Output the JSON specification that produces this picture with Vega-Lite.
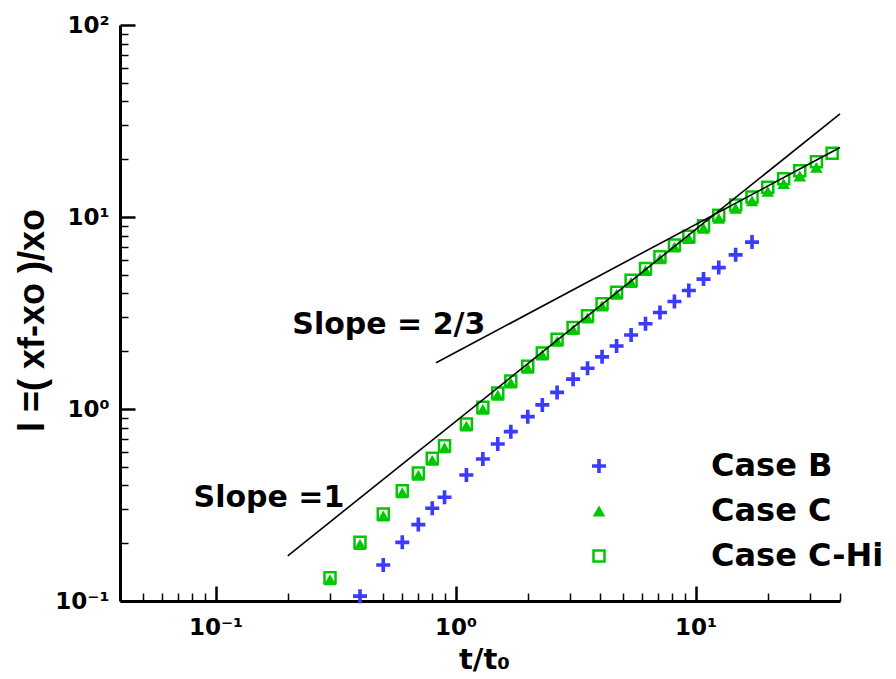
{
  "$schema": "https://vega.github.io/schema/vega-lite/v6.json",
  "width": 720,
  "height": 576,
  "autosize": {"type": "none"},
  "padding": {"left": 120, "top": 25, "right": 56, "bottom": 78},
  "background": "white",
  "config": {"view": {"stroke": null}},
  "datasets": {
    "points": [
      {"case": "Case C-Hi", "t": 0.30, "l": 0.132},
      {"case": "Case C-Hi", "t": 0.40, "l": 0.202},
      {"case": "Case C-Hi", "t": 0.50, "l": 0.284},
      {"case": "Case C-Hi", "t": 0.60, "l": 0.375},
      {"case": "Case C-Hi", "t": 0.70, "l": 0.464},
      {"case": "Case C-Hi", "t": 0.80, "l": 0.554},
      {"case": "Case C-Hi", "t": 0.90, "l": 0.644},
      {"case": "Case C-Hi", "t": 1.11, "l": 0.835},
      {"case": "Case C-Hi", "t": 1.30, "l": 1.02},
      {"case": "Case C-Hi", "t": 1.50, "l": 1.21},
      {"case": "Case C-Hi", "t": 1.70, "l": 1.40},
      {"case": "Case C-Hi", "t": 2.00, "l": 1.67},
      {"case": "Case C-Hi", "t": 2.30, "l": 1.96},
      {"case": "Case C-Hi", "t": 2.65, "l": 2.31},
      {"case": "Case C-Hi", "t": 3.09, "l": 2.66},
      {"case": "Case C-Hi", "t": 3.55, "l": 3.06},
      {"case": "Case C-Hi", "t": 4.08, "l": 3.53},
      {"case": "Case C-Hi", "t": 4.69, "l": 4.06},
      {"case": "Case C-Hi", "t": 5.39, "l": 4.68},
      {"case": "Case C-Hi", "t": 6.19, "l": 5.39},
      {"case": "Case C-Hi", "t": 7.11, "l": 6.21},
      {"case": "Case C-Hi", "t": 8.17, "l": 7.15},
      {"case": "Case C-Hi", "t": 9.38, "l": 7.93},
      {"case": "Case C-Hi", "t": 10.8, "l": 9.01},
      {"case": "Case C-Hi", "t": 12.5, "l": 10.2},
      {"case": "Case C-Hi", "t": 14.7, "l": 11.55},
      {"case": "Case C-Hi", "t": 17.2, "l": 12.7},
      {"case": "Case C-Hi", "t": 20.0, "l": 14.3},
      {"case": "Case C-Hi", "t": 23.3, "l": 15.8},
      {"case": "Case C-Hi", "t": 27.2, "l": 17.4},
      {"case": "Case C-Hi", "t": 31.9, "l": 19.4},
      {"case": "Case C-Hi", "t": 37.1, "l": 21.5},
      {"case": "Case C", "t": 0.30, "l": 0.129},
      {"case": "Case C", "t": 0.40, "l": 0.197},
      {"case": "Case C", "t": 0.50, "l": 0.277},
      {"case": "Case C", "t": 0.60, "l": 0.366},
      {"case": "Case C", "t": 0.70, "l": 0.452},
      {"case": "Case C", "t": 0.80, "l": 0.540},
      {"case": "Case C", "t": 0.90, "l": 0.628},
      {"case": "Case C", "t": 1.11, "l": 0.814},
      {"case": "Case C", "t": 1.30, "l": 0.995},
      {"case": "Case C", "t": 1.50, "l": 1.18},
      {"case": "Case C", "t": 1.70, "l": 1.365},
      {"case": "Case C", "t": 2.00, "l": 1.63},
      {"case": "Case C", "t": 2.30, "l": 1.91},
      {"case": "Case C", "t": 2.65, "l": 2.25},
      {"case": "Case C", "t": 3.09, "l": 2.59},
      {"case": "Case C", "t": 3.55, "l": 2.98},
      {"case": "Case C", "t": 4.08, "l": 3.44},
      {"case": "Case C", "t": 4.69, "l": 3.96},
      {"case": "Case C", "t": 5.39, "l": 4.56},
      {"case": "Case C", "t": 6.19, "l": 5.26},
      {"case": "Case C", "t": 7.11, "l": 6.05},
      {"case": "Case C", "t": 8.17, "l": 6.97},
      {"case": "Case C", "t": 9.38, "l": 7.73},
      {"case": "Case C", "t": 10.8, "l": 8.74},
      {"case": "Case C", "t": 12.5, "l": 9.84},
      {"case": "Case C", "t": 14.7, "l": 11.09},
      {"case": "Case C", "t": 17.2, "l": 12.13},
      {"case": "Case C", "t": 20.0, "l": 13.59},
      {"case": "Case C", "t": 23.3, "l": 14.93},
      {"case": "Case C", "t": 27.2, "l": 16.36},
      {"case": "Case C", "t": 31.9, "l": 18.14},
      {"case": "Case B", "t": 0.40, "l": 0.106},
      {"case": "Case B", "t": 0.50, "l": 0.154},
      {"case": "Case B", "t": 0.60, "l": 0.202},
      {"case": "Case B", "t": 0.70, "l": 0.250},
      {"case": "Case B", "t": 0.80, "l": 0.304},
      {"case": "Case B", "t": 0.90, "l": 0.347},
      {"case": "Case B", "t": 1.11, "l": 0.453},
      {"case": "Case B", "t": 1.30, "l": 0.549},
      {"case": "Case B", "t": 1.50, "l": 0.657},
      {"case": "Case B", "t": 1.70, "l": 0.762},
      {"case": "Case B", "t": 2.00, "l": 0.912},
      {"case": "Case B", "t": 2.30, "l": 1.05},
      {"case": "Case B", "t": 2.65, "l": 1.22},
      {"case": "Case B", "t": 3.09, "l": 1.43},
      {"case": "Case B", "t": 3.55, "l": 1.63},
      {"case": "Case B", "t": 4.08, "l": 1.87},
      {"case": "Case B", "t": 4.69, "l": 2.13},
      {"case": "Case B", "t": 5.39, "l": 2.43},
      {"case": "Case B", "t": 6.19, "l": 2.78},
      {"case": "Case B", "t": 7.11, "l": 3.18},
      {"case": "Case B", "t": 8.17, "l": 3.63},
      {"case": "Case B", "t": 9.38, "l": 4.14},
      {"case": "Case B", "t": 10.8, "l": 4.75},
      {"case": "Case B", "t": 12.5, "l": 5.45},
      {"case": "Case B", "t": 14.7, "l": 6.35},
      {"case": "Case B", "t": 17.2, "l": 7.40}
    ],
    "lines": [
      {"series": "Slope 1", "t": 0.2, "l": 0.172},
      {"series": "Slope 1", "t": 40, "l": 34.4},
      {"series": "Slope 2/3", "t": 0.83, "l": 1.74},
      {"series": "Slope 2/3", "t": 40, "l": 23.0}
    ],
    "labels": [
      {"text": "Slope =1", "t": 0.081, "l": 0.309},
      {"text": "Slope = 2/3", "t": 0.209, "l": 2.46}
    ]
  },
  "layer": [
    {
      "data": {"name": "points"},
      "mark": {"type": "point", "filled": true, "opacity": 1, "strokeWidth": 2.5},
      "encoding": {
        "x": {
          "field": "t",
          "type": "quantitative",
          "scale": {"type": "log", "domain": [0.04, 40], "nice": false},
          "axis": {
            "values": [0.05, 0.06, 0.07, 0.08, 0.09, 0.1, 0.2, 0.3, 0.4, 0.5, 0.6, 0.7, 0.8, 0.9, 1, 2, 3, 4, 5, 6, 7, 8, 9, 10, 20, 30, 40],
            "labelExpr": "abs(log(datum.value)/LN10 - round(log(datum.value)/LN10)) < 0.01 ? '10' + ['⁻¹','⁰','¹','²'][round(log(datum.value)/LN10) + 1] : ''",
            "title": "t/t₀",
            "grid": false,
            "domainColor": "black",
            "domainWidth": 3,
            "tickColor": "black",
            "tickSize": {"condition": {"test": "abs(log(datum.value)/LN10 - round(log(datum.value)/LN10)) < 0.01", "value": -15}, "value": -8},
            "tickWidth": {"condition": {"test": "abs(log(datum.value)/LN10 - round(log(datum.value)/LN10)) < 0.01", "value": 2.5}, "value": 1.5},
            "labelPadding": 48,
            "labelBaseline": "alphabetic",
            "labelAlign": "center",
            "labelFont": "DejaVu Sans",
            "labelFontWeight": "bold",
            "labelFontSize": 23,
            "labelColor": "black",
            "labelOverlap": false,
            "labelFlush": false,
            "titleFont": "DejaVu Sans",
            "titleFontWeight": "bold",
            "titleFontSize": 29,
            "titleColor": "black",
            "titleX": 364,
            "titleY": 67,
            "titleBaseline": "alphabetic",
            "titleAlign": "center"
          }
        },
        "y": {
          "field": "l",
          "type": "quantitative",
          "scale": {"type": "log", "domain": [0.1, 100], "nice": false},
          "axis": {
            "values": [0.1, 0.2, 0.3, 0.4, 0.5, 0.6, 0.7, 0.8, 0.9, 1, 2, 3, 4, 5, 6, 7, 8, 9, 10, 20, 30, 40, 50, 60, 70, 80, 90, 100],
            "labelExpr": "abs(log(datum.value)/LN10 - round(log(datum.value)/LN10)) < 0.01 ? '10' + ['⁻¹','⁰','¹','²'][round(log(datum.value)/LN10) + 1] : ''",
            "title": "l =( xf-xo )/xo",
            "grid": false,
            "domainColor": "black",
            "domainWidth": 3,
            "tickColor": "black",
            "tickSize": {"condition": {"test": "abs(log(datum.value)/LN10 - round(log(datum.value)/LN10)) < 0.01", "value": -15}, "value": -8},
            "tickWidth": {"condition": {"test": "abs(log(datum.value)/LN10 - round(log(datum.value)/LN10)) < 0.01", "value": 2.5}, "value": 1.5},
            "labelPadding": 26,
            "labelBaseline": "middle",
            "labelAlign": "right",
            "labelFont": "DejaVu Sans",
            "labelFontWeight": "bold",
            "labelFontSize": 23,
            "labelColor": "black",
            "labelOverlap": false,
            "labelFlush": false,
            "titleFont": "Liberation Sans",
            "titleFontWeight": "bold",
            "titleFontSize": 36,
            "titleColor": "black",
            "titleAngle": -90,
            "titleX": -77,
            "titleY": 295,
            "titleBaseline": "alphabetic",
            "titleAlign": "center"
          }
        },
        "shape": {
          "field": "case",
          "type": "nominal",
          "title": null,
          "scale": {"domain": ["Case B", "Case C", "Case C-Hi"], "range": ["M-1,-0.26H-0.26V-1H0.26V-0.26H1V0.26H0.26V1H-0.26V0.26H-1Z", "triangle-up", "square"]},
          "legend": {"orient": "none", "legendX": 463, "legendY": 425, "padding": 0, "rowPadding": 13, "labelFont": "DejaVu Sans", "labelFontWeight": "bold", "labelFontSize": 32, "labelColor": "black", "labelOffset": 96, "labelLimit": 400, "symbolStrokeWidth": 2.5}
        },
        "fill": {
          "field": "case",
          "type": "nominal",
          "title": null,
          "scale": {"domain": ["Case B", "Case C", "Case C-Hi"], "range": ["#3b3bff", "#00c800", "transparent"]},
          "legend": {"orient": "none", "legendX": 463, "legendY": 425, "padding": 0, "rowPadding": 13, "labelFont": "DejaVu Sans", "labelFontWeight": "bold", "labelFontSize": 32, "labelColor": "black", "labelOffset": 96, "labelLimit": 400, "symbolStrokeWidth": 2.5}
        },
        "stroke": {
          "field": "case",
          "type": "nominal",
          "title": null,
          "scale": {"domain": ["Case B", "Case C", "Case C-Hi"], "range": ["transparent", "transparent", "#00c800"]},
          "legend": {"orient": "none", "legendX": 463, "legendY": 425, "padding": 0, "rowPadding": 13, "labelFont": "DejaVu Sans", "labelFontWeight": "bold", "labelFontSize": 32, "labelColor": "black", "labelOffset": 96, "labelLimit": 400, "symbolStrokeWidth": 2.5}
        },
        "size": {
          "field": "case",
          "type": "nominal",
          "title": null,
          "scale": {"domain": ["Case B", "Case C", "Case C-Hi"], "range": [196, 121, 200]},
          "legend": {"orient": "none", "legendX": 463, "legendY": 425, "padding": 0, "rowPadding": 13, "labelFont": "DejaVu Sans", "labelFontWeight": "bold", "labelFontSize": 32, "labelColor": "black", "labelOffset": 96, "labelLimit": 400, "symbolStrokeWidth": 2.5}
        }
      }
    },
    {
      "data": {"name": "lines"},
      "mark": {"type": "line", "color": "black", "strokeWidth": 1.6},
      "encoding": {
        "x": {"field": "t", "type": "quantitative"},
        "y": {"field": "l", "type": "quantitative"},
        "detail": {"field": "series", "type": "nominal"}
      }
    },
    {
      "data": {"name": "labels"},
      "mark": {"type": "text", "align": "left", "baseline": "alphabetic", "font": "DejaVu Sans", "fontWeight": "bold", "fontSize": 30, "color": "black"},
      "encoding": {
        "x": {"field": "t", "type": "quantitative"},
        "y": {"field": "l", "type": "quantitative"},
        "text": {"field": "text", "type": "nominal"}
      }
    }
  ]
}
